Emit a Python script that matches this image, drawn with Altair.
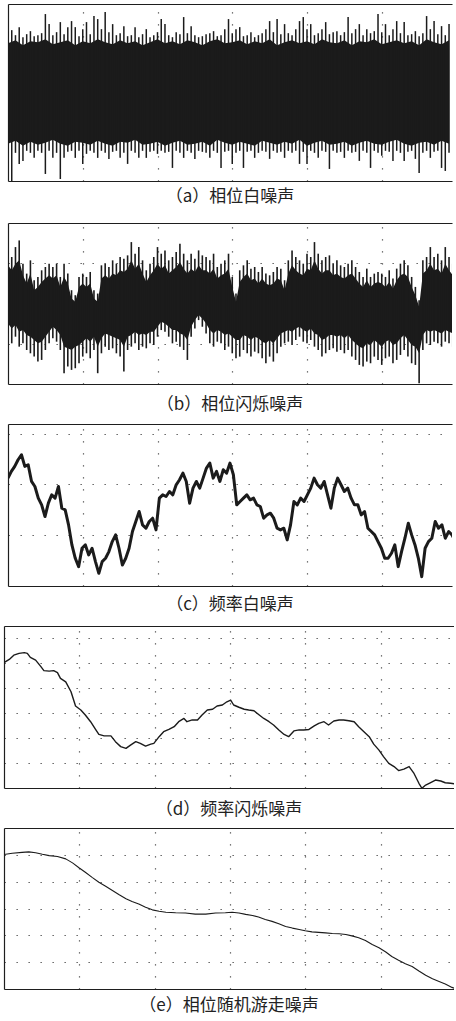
import altair as alt
import pandas as pd

# ---------------- (a) phase white noise: per-sample extremes + dense core ----------------
a_hi = [61, 62, 57, 65, 55, 58, 61, 56, 57, 59,
        78, 68, 57, 60, 70, 58, 65, 71, 65, 56,
        63, 70, 58, 76, 73, 63, 80, 60, 68, 57,
        59, 66, 56, 57, 65, 55, 58, 63, 55, 57,
        60, 73, 68, 57, 55, 60, 58, 75, 59, 66,
        57, 55, 56, 58, 59, 61, 56, 57, 63, 73,
        59, 63, 65, 56, 57, 60, 55, 57, 59, 63,
        71, 60, 73, 58, 68, 59, 57, 63, 71, 75,
        63, 68, 57, 59, 63, 70, 58, 60, 61, 57,
        60, 75, 59, 63, 68, 57, 63, 59, 61, 78,
        60, 68, 57, 63, 71, 59, 70, 57, 58, 61,
        56, 59, 76, 63, 71, 58, 66, 57, 68, 60]
a_lo = [-58, -88, -60, -71, -68, -58, -60, -65, -58, -60,
        -81, -58, -65, -60, -86, -65, -59, -58, -65, -58,
        -71, -61, -58, -60, -65, -58, -60, -66, -59, -58,
        -65, -60, -71, -58, -60, -65, -58, -65, -59, -58,
        -61, -58, -60, -59, -75, -58, -60, -65, -58, -60,
        -66, -58, -59, -60, -65, -58, -60, -75, -59, -58,
        -71, -60, -58, -75, -59, -58, -65, -60, -58, -59,
        -66, -58, -60, -59, -65, -58, -60, -58, -71, -59,
        -71, -58, -60, -65, -58, -59, -76, -58, -60, -59,
        -65, -58, -60, -59, -68, -58, -60, -75, -58, -60,
        -63, -58, -59, -68, -58, -60, -68, -59, -58, -66,
        -80, -60, -58, -65, -59, -58, -75, -78, -60, -65]
a_core_hi = [49, 52, 47, 51, 50, 53, 48, 50, 52, 47,
             51, 49, 53, 50, 48, 52, 49, 51, 47, 50,
             53, 49, 51, 48, 52, 50, 47, 51, 53, 49,
             50, 52, 48, 51, 49, 53, 47, 50, 52, 49,
             51, 48, 53, 50, 49, 52, 47, 51, 50, 53,
             48, 50, 52, 49, 51, 47, 53, 50, 48, 52]
a_core_lo = [-51, -48, -53, -49, -52, -50, -47, -51, -53, -49,
             -50, -52, -48, -51, -53, -49, -50, -47, -52, -51,
             -49, -53, -50, -48, -52, -51, -49, -53, -47, -50,
             -52, -49, -51, -53, -48, -50, -52, -49, -51, -47,
             -53, -50, -48, -52, -51, -49, -53, -50, -48, -51,
             -52, -49, -47, -51, -53, -50, -49, -52, -48, -51]

# ---------------- (b) phase flicker noise ----------------
b_hi = [160, 140, 170, 190, 120, 90, 130, 70, 80, 100,
        110, 120, 110, 120, 80, 120, 90, 40, 25, 80,
        90, 80, 95, 40, 30, 115, 120, 110, 130, 120,
        140, 135, 145, 185, 150, 170, 130, 100, 120, 140,
        170, 150, 160, 130, 140, 155, 180, 150, 130, 150,
        135, 160, 145, 140, 130, 150, 110, 120, 130, 150,
        80, 30, 100, 115, 130, 105, 110, 95, 110, 90,
        85, 95, 110, 105, 70, 130, 160, 140, 130, 120,
        150, 140, 185, 150, 130, 140, 145, 120, 130, 115,
        110, 120, 130, 110, 95, 80, 105, 80, 90, 95,
        90, 80, 100, 75, 105, 120, 130, 115, 80, 50,
        10, 130, 140, 170, 140, 150, 130, 170, 140, 120]
b_lo = [-90, -120, -100, -130, -120, -140, -150, -160, -175, -170,
        -140, -120, -105, -115, -140, -210, -190, -200, -195, -180,
        -160, -150, -165, -140, -210, -150, -130, -140, -135, -150,
        -160, -205, -140, -130, -120, -140, -130, -135, -120, -125,
        -100, -80, -85, -100, -120, -115, -130, -140, -170, -100,
        -75, -50, -70, -90, -120, -130, -115, -120, -140, -130,
        -150, -165, -160, -140, -150, -160, -145, -150, -165, -180,
        -160, -175, -150, -130, -120, -115, -125, -110, -100, -115,
        -120, -110, -130, -140, -160, -150, -140, -135, -145, -140,
        -150, -140, -160, -170, -185, -190, -175, -180, -160, -170,
        -185, -165, -160, -180, -170, -155, -140, -160, -180, -185,
        -240, -140, -120, -125, -115, -120, -130, -115, -120, -130]
b_core_hi = [115, 100, 120, 130, 85, 60, 90, 40, 50, 65,
             75, 85, 75, 85, 50, 80, 60, 15, 5, 50,
             60, 50, 60, 15, 5, 75, 85, 75, 90, 85,
             100, 95, 105, 130, 105, 120, 90, 65, 85, 100,
             120, 105, 115, 90, 100, 110, 125, 105, 90, 105,
             95, 115, 100, 100, 90, 105, 75, 85, 90, 105,
             50, 5, 65, 80, 90, 70, 75, 60, 75, 60,
             55, 60, 75, 70, 40, 90, 115, 100, 90, 85,
             105, 100, 130, 105, 90, 100, 100, 85, 90, 80,
             75, 85, 90, 75, 60, 50, 70, 50, 60, 65,
             60, 50, 65, 45, 70, 85, 90, 80, 50, 25,
             -10, 90, 100, 120, 100, 105, 90, 120, 100, 85]
b_core_lo = [-60, -75, -65, -85, -80, -95, -100, -110, -120, -115,
             -100, -85, -70, -80, -95, -130, -135, -140, -130, -125,
             -115, -105, -115, -100, -130, -105, -90, -95, -100, -105,
             -110, -130, -100, -95, -85, -95, -90, -95, -85, -85,
             -70, -55, -60, -70, -80, -80, -90, -95, -110, -70,
             -50, -35, -45, -60, -80, -90, -80, -85, -95, -90,
             -100, -110, -110, -95, -100, -110, -100, -105, -115, -120,
             -110, -120, -105, -90, -85, -80, -85, -75, -70, -80,
             -85, -75, -90, -95, -110, -105, -95, -95, -100, -95,
             -105, -95, -110, -120, -130, -135, -120, -125, -110, -120,
             -130, -115, -110, -125, -120, -105, -95, -110, -125, -130,
             -150, -95, -80, -85, -80, -85, -90, -80, -85, -90]

# ---------------- (c) frequency white noise ----------------
c_v = [170, 190, 205, 225, 240, 205, 210, 160, 145, 110,
       90, 55, 95, 120, 110, 145, 80, 75, 30, -30,
       -70, -95, -40, -30, -60, -40, -80, -115, -80, -70,
       -50, -20, 0, -40, -90, -70, -40, 10, 40, 70,
       30, 20, 40, 50, 15, 110, 120, 115, 130, 120,
       150, 165, 185, 160, 95, 140, 160, 140, 170, 200,
       215, 170, 190, 160, 195, 185, 215, 180, 90, 100,
       110, 120, 105, 110, 90, 85, 50, 60, 65, 50,
       20, 15, 20, -15, 30, 100, 90, 110, 100, 120,
       140, 170, 150, 140, 160, 120, 80, 140, 170, 150,
       130, 140, 110, 90, 90, 60, 70, 20, 10, 0,
       -20, -40, -70, -70, -55, -30, -95, -50, -10, 35,
       0, -30, -70, -125, -40, -20, -10, 40, 20, 30,
       -10, 10, 0, -20]

# ---------------- (d) frequency flicker noise ----------------
d_t = [0, 0.07, 0.13, 0.2, 0.27, 0.31, 0.35, 0.42, 0.49, 0.53,
       0.6, 0.66, 0.71, 0.75, 0.82, 0.89, 0.95, 1.02, 1.08, 1.15,
       1.22, 1.26, 1.33, 1.42, 1.48, 1.55, 1.62, 1.68, 1.75, 1.81,
       1.88, 1.95, 1.99, 2.06, 2.12, 2.19, 2.26, 2.32, 2.39, 2.43,
       2.5, 2.57, 2.63, 2.7, 2.77, 2.83, 2.9, 2.96, 3.01, 3.05,
       3.12, 3.19, 3.25, 3.32, 3.39, 3.45, 3.52, 3.58, 3.65, 3.72,
       3.78, 3.85, 3.92, 3.98, 4.05, 4.12, 4.18, 4.25, 4.31, 4.38,
       4.45, 4.51, 4.58, 4.65, 4.71, 4.78, 4.85, 4.91, 4.98, 5.04,
       5.11, 5.18, 5.24, 5.31, 5.38, 5.44, 5.51, 5.55, 5.6, 5.66,
       5.73, 5.8, 5.86, 5.93, 6.0]
d_v = [5.03, 5.16, 5.33, 5.40, 5.43, 5.40, 5.24, 5.13, 4.87, 4.71,
       4.69, 4.71, 4.63, 4.40, 4.26, 3.86, 3.29, 3.13, 2.93, 2.66,
       2.33, 2.15, 2.09, 2.09, 1.86, 1.66, 1.59, 1.72, 1.86, 1.79,
       1.68, 1.76, 1.79, 2.06, 2.26, 2.35, 2.46, 2.66, 2.79, 2.66,
       2.73, 2.73, 2.93, 3.13, 3.16, 3.29, 3.33, 3.46, 3.53, 3.33,
       3.24, 3.16, 3.13, 3.10, 2.93, 2.79, 2.66, 2.53, 2.33, 2.15,
       2.06, 2.29, 2.33, 2.33, 2.35, 2.49, 2.59, 2.66, 2.53, 2.69,
       2.73, 2.73, 2.70, 2.66, 2.46, 2.26, 2.06, 1.76, 1.52, 1.26,
       0.99, 0.86, 0.70, 0.76, 0.86, 0.61, 0.19, -0.01, 0.12, 0.21,
       0.32, 0.28, 0.21, 0.19, 0.16]

# ---------------- (e) phase random-walk noise ----------------
e_t = [0, 0.11, 0.24, 0.33, 0.42, 0.51, 0.6, 0.71, 0.82, 0.91,
       1.0, 1.08, 1.17, 1.26, 1.35, 1.44, 1.53, 1.62, 1.7, 1.79,
       1.88, 1.97, 2.06, 2.15, 2.28, 2.41, 2.54, 2.68, 2.81, 2.94,
       3.03, 3.12, 3.21, 3.3, 3.38, 3.47, 3.56, 3.65, 3.74, 3.83,
       3.92, 4.0, 4.09, 4.18, 4.27, 4.36, 4.45, 4.54, 4.62, 4.71,
       4.8, 4.89, 4.98, 5.07, 5.15, 5.24, 5.33, 5.42, 5.51, 5.6,
       5.69, 5.77, 5.86, 5.95, 6.0]
e_v = [5.01, 5.06, 5.09, 5.11, 5.08, 5.02, 4.97, 4.94, 4.85, 4.70,
       4.51, 4.35, 4.16, 3.98, 3.83, 3.67, 3.51, 3.36, 3.26, 3.17,
       3.05, 2.95, 2.90, 2.86, 2.84, 2.83, 2.79, 2.79, 2.83, 2.84,
       2.86, 2.83, 2.78, 2.74, 2.68, 2.59, 2.52, 2.43, 2.33, 2.27,
       2.22, 2.17, 2.13, 2.11, 2.09, 2.07, 2.06, 2.03, 1.98, 1.91,
       1.81, 1.66, 1.54, 1.38, 1.21, 1.07, 0.94, 0.84, 0.67, 0.51,
       0.38, 0.29, 0.19, 0.06, 0.01]

captions = ["（a）相位白噪声", "（b）相位闪烁噪声", "（c）频率白噪声",
            "（d）频率闪烁噪声", "（e）相位随机游走噪声"]

INK = "#1b1b1b"
FRAME = "#1e1e1e"
GRID = "#4d4d4d"
CJK = "Noto Sans CJK SC"


def x_top(xmax, top_ext):
    # upper frame edge + dotted vertical grid
    return alt.X("t:Q",
                 scale=alt.Scale(domain=[0, xmax], nice=False, zero=False),
                 axis=alt.Axis(orient="top", values=[1, 2, 3, 4, 5], grid=True,
                               labels=False, ticks=False, domain=True, title=None,
                               minExtent=top_ext, maxExtent=top_ext))


def x_bottom(xmax):
    # lower frame edge
    return alt.X("t:Q",
                 scale=alt.Scale(domain=[0, xmax], nice=False, zero=False),
                 axis=alt.Axis(orient="bottom", grid=False, labels=False, ticks=False,
                               domain=True, title=None, minExtent=0, maxExtent=0))


def y_enc(field, domain, ticks):
    # left frame edge + dotted horizontal grid
    return alt.Y(f"{field}:Q",
                 scale=alt.Scale(domain=domain, nice=False, zero=False),
                 axis=alt.Axis(values=ticks, grid=True, labels=False, ticks=False,
                               domain=True, title=None, minExtent=0, maxExtent=0))


def caption(i, offset):
    return alt.TitleParams(text=captions[i], orient="bottom", offset=offset)


def band_panel(hi, lo, core_hi, core_lo, step, core_step, domain, ticks,
               xmax, width, height, top_ext, cap, cap_off, rule_w):
    spikes = pd.DataFrame({"t": [i * step for i in range(len(hi))], "hi": hi, "lo": lo})
    core = pd.DataFrame({"t": [i * core_step for i in range(len(core_hi))],
                         "hi": core_hi, "lo": core_lo})
    body = alt.Chart(core).mark_area(color=INK, clip=True).encode(
        x=x_top(xmax, top_ext), y=y_enc("lo", domain, ticks), y2="hi:Q")
    comb = alt.Chart(spikes).mark_rule(color=INK, strokeWidth=rule_w, clip=True).encode(
        x=x_bottom(xmax), y=y_enc("lo", domain, ticks), y2="hi:Q")
    return alt.layer(body, comb).properties(width=width, height=height,
                                            title=caption(cap, cap_off))


def line_panel(t, v, domain, ticks, xmax, width, height, top_ext, cap, cap_off, lw):
    df = pd.DataFrame({"t": t, "v": v})
    trace = alt.Chart(df).mark_line(color=INK, strokeWidth=lw, strokeJoin="round",
                                    clip=True).encode(
        x=x_top(xmax, top_ext), y=y_enc("v", domain, ticks))
    edge = alt.Chart(df).mark_line(opacity=0, clip=True).encode(
        x=x_bottom(xmax), y=y_enc("v", domain, ticks))
    return alt.layer(trace, edge).properties(width=width, height=height,
                                             title=caption(cap, cap_off))


# upper three panels: 74.75 px per grid unit; lower two: 75.3 px per unit
W_TOP = 444
W_BOT = 450
X_TOP = W_TOP / 74.75
X_BOT = W_BOT / 75.3

pa = band_panel(a_hi, a_lo, a_core_hi, a_core_lo, 0.05, 0.1, [-88, 88], [0],
                X_TOP, W_TOP, 177, 0, 0, 8.3, 1.5)
pb = band_panel(b_hi, b_lo, b_core_hi, b_core_lo, 0.05, 0.05, [-242.5, 242.5], [-121, 121],
                X_TOP, W_TOP, 161, 8.4, 1, 13.3, 1.6)
pc = line_panel([i * 0.045 for i in range(len(c_v))], c_v, [-153, 332], [0, 151.5, 303],
                X_TOP, W_TOP, 162, 2.0, 2, 11.3, 3.0)
pd_ = line_panel(d_t, d_v, [0, 6.5], [1, 2, 3, 4, 5, 6], X_BOT, W_BOT, 162, 3.4, 3, 14.3, 1.4)
pe = line_panel(e_t, e_v, [0, 6], [1, 2, 3, 4, 5], X_BOT, W_BOT, 161, 0.4, 4, 8.6, 1.1)

# narrow blank column that pushes the upper three panels slightly to the right
spacer = alt.Chart(pd.DataFrame({"s": [0.0]})).mark_point(size=0, opacity=0).encode(
    x=alt.X("s:Q", axis=None), y=alt.Y("s:Q", axis=None)
).properties(width=4, height=1)

upper = alt.hconcat(spacer, alt.vconcat(pa, pb, pc, spacing=8), spacing=0)
lower = alt.vconcat(pd_, pe, spacing=8)

chart = alt.vconcat(upper, lower, spacing=8).properties(
    padding={"left": 4, "top": 4, "right": 0, "bottom": 8},
    background="white",
).configure_view(
    stroke="transparent", strokeWidth=0
).configure_axis(
    gridColor=GRID, gridDash=[1.3, 10.7], gridWidth=1.2, gridOpacity=1,
    domainColor=FRAME, domainWidth=1.2
).configure_title(
    font=CJK, fontSize=17, fontWeight="normal", color="#222222", anchor="middle"
)

chart.save("out.html", embed_options={"renderer": "svg", "actions": False})
